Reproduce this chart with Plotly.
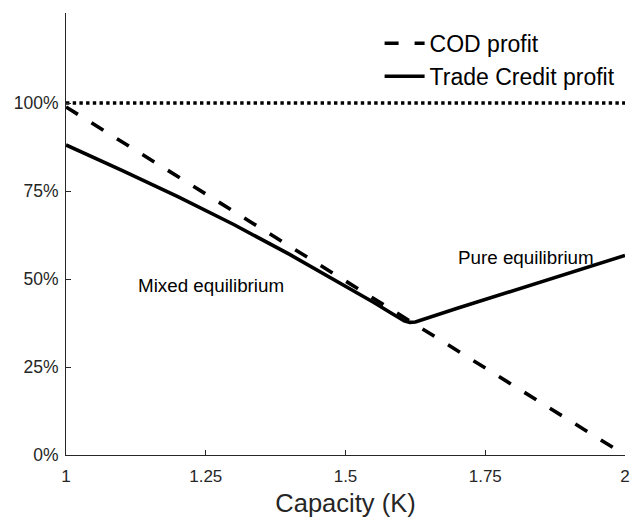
import plotly.graph_objects as go

# Data
capacity_cod = [1.0, 2.0]
cod_profit = [0.989, 0.0]

capacity_tc = [1.0, 1.1, 1.2, 1.3, 1.4, 1.5, 1.55, 1.58, 1.595, 1.605, 1.615, 1.625, 1.7, 1.8, 1.9, 2.0]
tc_profit = [0.881, 0.809, 0.734, 0.655, 0.570, 0.481, 0.434, 0.405, 0.390, 0.381, 0.377, 0.378, 0.417, 0.467, 0.517, 0.567]

ref_x = [1.0, 2.0]
ref_y = [1.0, 1.0]

x_ticks = [1, 1.25, 1.5, 1.75, 2]
x_tick_labels = ["1", "1.25", "1.5", "1.75", "2"]
y_ticks = [0, 0.25, 0.5, 0.75, 1.0]
y_tick_labels = ["0%", "25%", "50%", "75%", "100%"]

FONT = "Liberation Sans, Arial, Helvetica, sans-serif"
AX = "#262626"

fig = go.Figure()
fig.add_trace(go.Scatter(x=ref_x, y=ref_y, mode="lines", showlegend=False,
                         line=dict(color="black", width=3.5, dash="3.4px,3.3px"), hoverinfo="skip"))
fig.add_trace(go.Scatter(x=capacity_cod, y=cod_profit, mode="lines", name="COD profit",
                         line=dict(color="black", width=3.6, dash="14px,16px")))
fig.add_trace(go.Scatter(x=capacity_tc, y=tc_profit, mode="lines", name="Trade Credit profit",
                         line=dict(color="black", width=3.6)))

fig.add_annotation(x=1.26, y=0.483, text="Mixed equilibrium", showarrow=False,
                   font=dict(family=FONT, size=18.8, color="black"))
fig.add_annotation(x=1.823, y=0.5625, text="Pure equilibrium", showarrow=False,
                   font=dict(family=FONT, size=18.8, color="black"))

fig.update_layout(
    width=630, height=517,
    margin=dict(l=66, r=5, t=13, b=62),
    paper_bgcolor="white", plot_bgcolor="white",
    font=dict(family=FONT, color=AX),
    showlegend=True,
    legend=dict(x=0.561, y=0.98, xanchor="left", yanchor="top",
                bgcolor="rgba(0,0,0,0)", font=dict(family=FONT, size=23, color="black"),
                tracegroupgap=0, itemwidth=40),
    xaxis=dict(range=[1, 2], tickvals=x_ticks, ticktext=x_tick_labels,
               showgrid=False, zeroline=False, showline=True, linecolor=AX, linewidth=1,
               ticks="inside", ticklen=5, tickcolor=AX, tickfont=dict(size=17, color=AX),
               ticklabelstandoff=6, automargin=False,
               title=dict(text="Capacity (K)", font=dict(size=25.5, color=AX), standoff=12),
               mirror=False),
    yaxis=dict(range=[0, 1.256], tickvals=y_ticks, ticktext=y_tick_labels,
               showgrid=False, zeroline=False, showline=True, linecolor=AX, linewidth=1,
               ticks="inside", ticklen=5, tickcolor=AX, tickfont=dict(size=17.5, color=AX),
               ticklabelstandoff=3, automargin=False),
)

fig.write_html("out.html", config={"displayModeBar": False},
               post_script="document.body.style.margin='0';")
